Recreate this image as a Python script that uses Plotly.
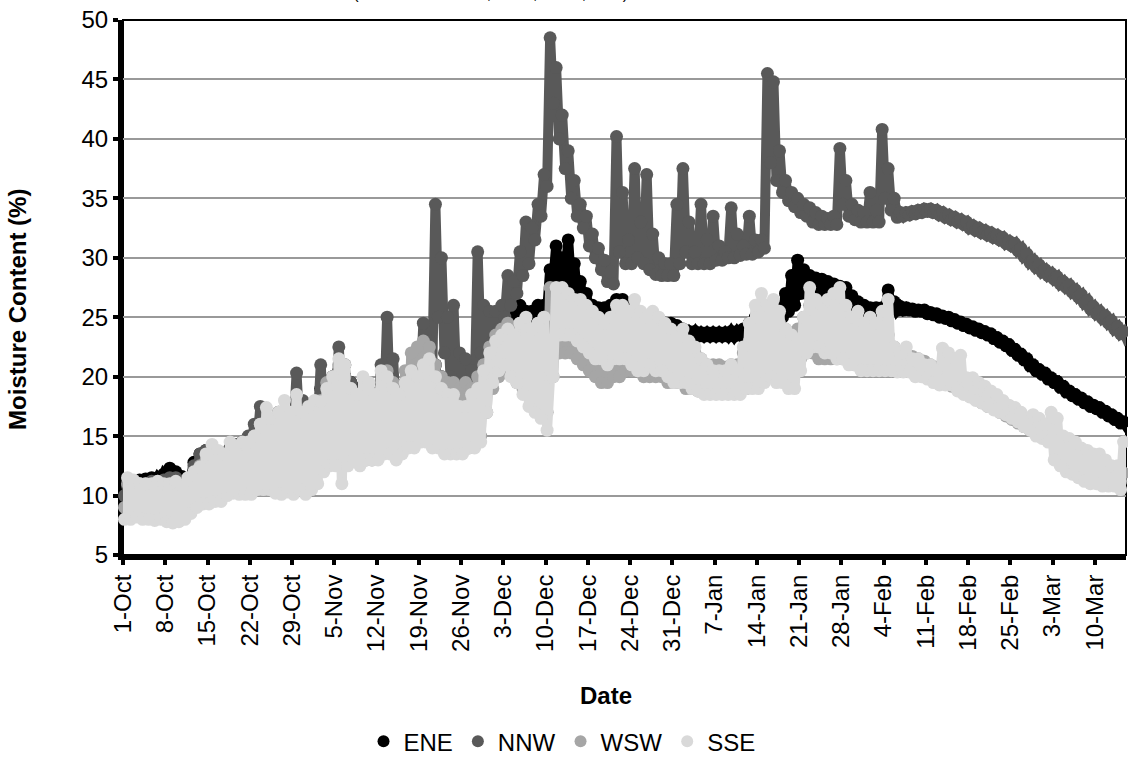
import pandas as pd
import plotly.graph_objects as go

# Daily minimum / maximum moisture readings (%), one value per day from 1 Oct 2011
# (weeks on each row, last row = 10-15 Mar 2012)
ene_min = [
    10.0, 10.2, 10.5, 10.6, 10.8, 11.0, 11.2,
    11.5, 11.3, 11.0, 10.8, 11.5, 12.5, 12.8,
    13.0, 12.5, 12.3, 13.0, 13.5, 13.8, 14.0,
    14.0, 14.3, 14.5, 15.0, 15.2, 15.0, 14.8,
    15.0, 15.5, 15.3, 15.5, 16.5, 17.5, 18.0,
    19.0, 18.5, 18.0, 17.5, 17.5, 17.0, 17.0,
    17.5, 18.0, 18.0, 17.5, 18.0, 18.5, 19.0,
    19.5, 19.5, 19.0, 18.5, 18.0, 18.0, 17.5,
    17.5, 16.5, 17.0, 17.5, 19.0, 20.5, 22.0,
    23.5, 24.0, 24.5, 24.5, 24.0, 24.5, 25.0,
    25.5, 28.0, 27.5, 28.0, 27.5, 26.5, 25.5,
    25.0, 25.0, 24.8, 25.0, 25.0, 25.3, 25.0,
    24.8, 24.5, 24.5, 24.3, 24.0, 24.0, 24.0,
    23.8, 23.5, 23.5, 23.5, 23.4, 23.4, 23.4,
    23.4, 23.4, 23.4, 23.4, 23.5, 23.5, 23.8,
    23.8, 24.0, 24.3, 24.5, 25.0, 25.5, 26.0,
    27.0, 27.0, 27.0, 27.0, 26.8, 26.5, 26.3,
    26.2, 25.8, 25.4, 25.2, 25.0, 25.0, 25.0,
    25.5, 25.8, 25.6, 25.6, 25.6, 25.5, 25.5,
    25.3, 25.2, 25.0, 24.9, 24.7, 24.5, 24.3,
    24.1, 23.9, 23.7, 23.5, 23.2, 22.9, 22.6,
    22.2, 21.8, 21.4, 20.9, 20.5, 20.2, 19.8,
    19.5, 19.1, 18.7, 18.4, 18.1, 17.8, 17.5,
    17.3, 17.0, 16.7, 16.4, 16.1, 15.8,
]
ene_max = [
    11.0, 11.2, 11.3, 11.4, 11.5, 11.5, 11.8,
    12.3, 12.0, 11.6, 11.3, 12.8, 13.5, 13.8,
    14.0, 13.5, 13.2, 14.0, 14.3, 14.5, 14.8,
    15.0, 15.5, 16.0, 16.5, 16.5, 16.0, 15.8,
    16.5, 17.0, 16.5, 17.5, 19.0, 19.5, 20.0,
    20.5, 20.0, 19.5, 19.0, 18.5, 18.5, 18.0,
    19.0, 19.5, 19.0, 19.0, 19.5, 20.0, 20.5,
    21.0, 22.0, 21.0, 20.0, 19.5, 19.0, 18.5,
    18.5, 18.0, 18.0, 19.5, 21.0, 22.5, 24.0,
    25.0, 25.5, 26.0, 25.5, 25.5, 26.0, 26.0,
    29.0, 31.0, 30.0, 31.5, 29.5, 28.0, 27.0,
    26.0, 25.8, 25.8, 26.0, 26.5, 26.5, 26.0,
    25.5, 25.3, 25.0, 25.0, 24.8, 24.5, 24.5,
    24.3, 24.0, 23.8, 23.8, 23.7, 23.7, 23.7,
    23.7, 23.7, 23.8, 23.8, 24.0, 24.5, 25.0,
    24.5, 25.0, 25.5, 26.0, 27.0, 28.5, 29.8,
    29.0, 28.5, 28.3, 28.2, 28.0, 27.8, 27.6,
    27.5, 26.8, 26.3, 26.0, 25.8, 25.8, 25.8,
    27.3, 26.3, 25.9, 25.8, 25.7, 25.6, 25.6,
    25.4, 25.3, 25.1, 25.0, 24.8, 24.6, 24.4,
    24.2, 24.0, 23.8, 23.6, 23.3, 23.0, 22.7,
    22.3, 21.9, 21.5, 21.0, 20.6, 20.3, 19.9,
    19.6, 19.2, 18.8, 18.5, 18.2, 17.9, 17.6,
    17.4, 17.1, 16.8, 16.5, 16.2, 15.9,
]

nnw_min = [
    10.0, 10.0, 10.2, 10.3, 10.3, 10.5, 10.5,
    10.8, 10.8, 10.5, 10.5, 11.0, 12.0, 12.5,
    12.5, 12.3, 12.2, 12.5, 13.0, 13.3, 13.5,
    14.0, 14.5, 14.5, 14.5, 14.8, 15.0, 15.0,
    15.5, 15.5, 15.5, 15.5, 16.0, 16.5, 17.0,
    18.0, 17.5, 17.0, 16.5, 16.5, 16.0, 16.0,
    16.5, 17.0, 17.0, 16.5, 16.5, 17.0, 17.5,
    19.0, 20.0, 21.0, 25.0, 22.0, 20.0, 19.0,
    18.5, 18.0, 18.5, 22.0, 22.5, 23.0, 24.0,
    25.0, 26.0, 27.0, 28.5, 29.5, 31.5, 33.5,
    36.0, 43.0, 40.0, 37.5, 35.0, 33.5, 32.5,
    31.0, 30.0, 29.0, 28.0, 27.8, 30.5, 29.5,
    29.5, 30.0, 29.5, 29.0, 28.6, 28.5, 28.5,
    28.5, 29.5, 30.5, 29.5, 29.5, 29.5, 29.5,
    29.8, 29.8, 30.0, 30.0, 30.2, 30.3, 30.3,
    30.5, 30.8, 38.0, 36.5, 35.5, 34.8, 34.3,
    33.8, 33.5, 33.0, 32.8, 32.8, 32.8, 32.8,
    34.5, 33.5, 33.2, 33.0, 33.0, 33.0, 33.0,
    35.0, 34.0, 33.4, 33.5, 33.6, 33.7, 33.8,
    33.9, 33.8, 33.6, 33.4, 33.2, 33.0, 32.8,
    32.5, 32.3, 32.1, 31.9, 31.7, 31.5, 31.2,
    31.0, 30.6, 30.1, 29.6, 29.2, 28.8, 28.5,
    28.2, 27.8, 27.5, 27.1, 26.7, 26.2, 25.7,
    25.3, 24.9, 24.5, 24.0, 23.6, 23.2,
]
nnw_max = [
    10.8, 11.0, 11.0, 11.0, 11.2, 11.2, 11.3,
    11.5, 11.5, 11.2, 11.3, 12.5, 13.5, 13.8,
    14.0, 13.5, 13.3, 14.0, 14.3, 14.3, 15.0,
    16.0, 17.5, 16.5, 16.0, 17.0, 16.5, 16.5,
    20.3, 18.0, 17.0, 17.5, 21.0, 19.5, 20.0,
    22.5, 21.0, 19.5, 18.5, 18.5, 18.0, 17.5,
    21.0, 25.0, 21.5, 19.0, 19.5, 20.5, 22.0,
    24.5, 23.0, 34.5, 30.0, 25.0, 26.0, 22.0,
    21.5, 20.5, 30.5, 26.0, 25.5, 25.5, 26.0,
    28.5, 28.0, 30.5, 33.0, 32.5, 34.5, 37.0,
    48.5, 46.0, 42.0, 39.0, 36.5, 34.5, 33.5,
    32.0, 30.8, 29.8, 28.8, 40.2, 35.5, 31.5,
    37.5, 33.0, 37.0, 32.0, 30.0, 29.5, 29.5,
    34.5, 37.5, 33.0, 30.5, 34.5, 31.5, 33.5,
    31.0, 30.5, 34.2, 32.0, 31.0, 33.5, 31.5,
    31.5, 45.5, 44.8, 39.0, 36.5, 35.5, 35.0,
    34.5, 34.2, 33.8, 33.5, 33.3, 33.5, 39.2,
    36.5, 34.5, 34.0, 33.8, 35.5, 34.0, 40.8,
    37.5, 35.0, 33.8, 33.8, 33.9, 34.0, 34.1,
    34.1, 34.0, 33.8, 33.6, 33.4, 33.2, 33.0,
    32.7, 32.5, 32.3, 32.1, 31.9, 31.7, 31.4,
    31.2, 30.8, 30.3, 29.8, 29.4, 29.0, 28.7,
    28.4, 28.0, 27.7, 27.3, 26.9, 26.4, 25.9,
    25.5, 25.1, 24.7, 24.2, 23.8, 23.4,
]

wsw_min = [
    9.0, 9.0, 9.0, 9.0, 9.0, 8.8, 8.8,
    8.8, 8.8, 8.5, 8.5, 9.0, 10.0, 10.5,
    10.5, 10.0, 10.0, 10.5, 11.0, 11.0, 11.5,
    11.5, 12.0, 12.0, 12.0, 12.0, 11.5, 11.5,
    12.0, 12.0, 12.0, 12.0, 12.5, 13.5, 14.0,
    15.0, 14.5, 14.0, 13.5, 13.5, 13.0, 13.0,
    13.5, 14.0, 14.0, 14.0, 14.5, 15.0, 15.5,
    16.0, 16.5, 16.0, 15.5, 15.0, 14.5, 14.0,
    14.0, 14.0, 14.5, 15.0, 17.0, 19.0, 20.0,
    20.5, 20.5, 19.5, 19.0, 18.5, 18.0, 17.5,
    17.0, 20.0, 22.0, 22.0, 22.0, 21.5, 21.0,
    20.5, 20.0, 19.5, 19.5, 20.0, 20.0, 20.5,
    20.5, 20.5, 20.0, 20.0, 20.0, 20.0, 19.5,
    19.5, 19.5, 19.0, 19.0, 18.8, 18.8, 18.8,
    18.8, 18.8, 18.8, 18.8, 19.0, 19.0, 19.5,
    20.0, 20.5, 21.0, 21.0, 21.0, 21.0, 21.0,
    21.5, 22.0, 22.0, 21.5, 21.5, 21.5, 21.5,
    21.5, 21.5, 21.0, 21.0, 21.0, 21.0, 21.0,
    21.0, 20.8, 20.7, 20.5, 20.5, 20.4, 20.3,
    20.1, 19.9, 19.7, 19.4, 19.2, 18.9, 18.6,
    18.4, 18.1, 17.8, 17.5, 17.3, 17.0, 16.7,
    16.4, 16.1, 15.8, 15.5, 15.2, 14.9, 14.6,
    14.3, 14.0, 13.7, 13.4, 13.1, 12.8, 12.5,
    12.2, 12.0, 11.7, 11.4, 11.2, 11.0,
]
wsw_max = [
    11.0, 11.0, 11.0, 10.8, 10.8, 10.8, 10.5,
    10.5, 10.5, 10.3, 10.5, 11.5, 12.5, 13.0,
    13.0, 12.5, 12.0, 13.0, 13.5, 13.5, 14.0,
    15.0, 16.0, 15.5, 15.0, 15.5, 15.0, 15.0,
    17.0, 16.0, 15.5, 16.5, 18.0, 19.5, 20.0,
    21.0, 20.0, 19.0, 18.5, 18.0, 18.0, 17.5,
    19.0, 20.5, 19.5, 19.0, 20.5, 22.0, 22.5,
    23.0, 22.5, 21.0, 20.0, 19.5, 19.5, 19.0,
    19.5, 19.0, 20.0, 21.0, 22.5, 23.5, 24.0,
    24.5, 24.0, 24.5, 24.0, 24.0, 24.5, 25.0,
    27.5, 27.0, 26.5, 26.0, 25.5, 25.5, 25.0,
    24.5, 24.0, 24.5, 24.5, 25.0, 25.5, 25.0,
    25.5, 25.0, 25.0, 24.5, 24.0, 24.0, 23.5,
    23.0, 23.0, 22.5, 22.0, 21.5, 21.0, 21.0,
    21.0, 20.8, 21.0, 21.0, 22.0, 23.0, 24.5,
    25.5, 25.0, 25.0, 24.5, 24.0, 23.5, 24.0,
    25.0, 26.0, 25.5, 25.0, 25.0, 24.5, 24.5,
    24.5, 24.0, 23.5, 23.5, 23.5, 23.0, 23.0,
    23.5, 22.5, 22.0, 21.8, 21.7, 21.5, 21.3,
    21.0, 20.8, 20.5, 20.2, 19.9, 19.7, 19.4,
    19.1, 18.8, 18.5, 18.2, 17.9, 17.6, 17.3,
    17.0, 16.8, 16.5, 16.2, 15.9, 15.6, 15.3,
    15.0, 14.7, 14.4, 14.1, 13.8, 13.5, 13.2,
    12.9, 12.6, 12.4, 12.1, 11.9, 11.6,
]

sse_min = [
    8.0, 8.0, 8.2, 8.0, 8.0, 7.9, 8.0,
    7.8, 7.7, 7.8, 8.0, 8.5, 9.0, 9.3,
    9.3, 9.5, 9.5, 10.0, 10.2, 10.1, 10.1,
    10.1, 10.5, 10.5, 10.5, 10.2, 10.1, 10.3,
    10.1, 10.5, 10.1, 10.5, 11.0, 12.0, 12.5,
    12.5, 11.0, 12.5, 13.0, 12.5, 13.0, 13.0,
    13.0, 13.5, 13.5, 13.0, 13.5, 14.0, 14.0,
    14.5, 14.5, 14.0, 14.0, 13.5, 13.5, 13.5,
    13.5, 14.0, 14.0, 14.5, 17.0, 19.5, 20.5,
    21.0, 20.0, 19.5, 18.5, 17.5, 17.0, 16.5,
    15.5, 20.0, 23.5, 23.5, 23.5, 23.0, 22.5,
    22.0, 21.5, 21.5, 21.0, 21.5, 21.5, 21.5,
    21.0, 20.5, 20.5, 21.0, 20.5, 20.5, 20.0,
    19.5, 19.5, 19.5, 19.0, 18.8, 18.5, 18.5,
    18.5, 18.5, 18.5, 18.5, 18.5, 19.0, 19.0,
    19.0, 19.5, 20.0, 19.5, 19.5, 19.0, 19.0,
    20.5, 22.0, 22.5, 22.5, 22.0, 22.0, 21.5,
    21.5, 21.0, 21.0, 20.5, 20.5, 20.5, 20.5,
    20.5, 20.5, 20.4, 20.4, 20.4, 20.0, 20.0,
    19.8, 19.5, 19.3, 19.3, 19.3, 18.8, 18.5,
    18.3, 18.0, 17.8, 17.5, 17.2, 17.0, 16.8,
    16.5, 16.2, 15.8, 15.5, 15.0, 14.8, 14.5,
    13.0, 12.5, 12.0, 11.8, 11.5, 11.2, 11.0,
    11.0, 10.8, 10.8, 10.8, 10.5, 10.5,
]
sse_max = [
    11.5, 11.3, 11.0, 11.0, 11.0, 11.2, 11.0,
    11.0, 11.2, 10.8, 11.5, 12.0, 12.4, 13.5,
    14.3, 13.8, 13.5, 14.5, 14.0, 14.5, 14.5,
    15.0, 16.0, 17.4, 16.5, 17.0, 18.0, 17.0,
    18.5, 17.0, 17.5, 18.0, 17.9, 19.0, 20.0,
    21.5, 21.0, 19.0, 18.5, 20.0, 19.5, 18.5,
    20.5, 20.0, 19.0, 18.5, 19.5, 20.5, 20.0,
    21.0, 21.5, 20.0, 19.0, 18.5, 18.5, 17.5,
    17.5, 18.5, 19.0, 20.5, 22.0, 23.0, 23.5,
    24.0, 23.5, 24.5, 25.0, 24.0, 24.5, 25.0,
    20.0, 27.5, 27.5, 27.0, 26.5, 26.5, 26.0,
    25.5, 25.0, 24.5, 25.0, 26.0, 26.0, 25.5,
    26.5, 25.5, 25.0, 25.5, 25.0, 24.5, 24.0,
    23.5, 24.0, 23.0, 22.5, 21.5, 21.0, 20.5,
    20.5, 20.5, 21.0, 20.5, 22.5, 24.5, 26.0,
    27.0, 26.0, 26.5, 25.5, 24.0, 23.5, 23.0,
    25.0, 27.5, 26.5, 26.0, 26.5, 27.0, 27.5,
    26.0, 25.0, 25.5, 24.5, 25.0, 24.5, 25.5,
    26.5, 22.5, 22.0, 22.5, 21.5, 21.5, 21.0,
    21.0, 20.5, 22.4, 22.0, 21.5, 21.8, 19.9,
    19.9, 19.5, 19.2, 18.8, 18.5, 18.0, 17.6,
    17.4, 17.0, 16.5, 16.8, 16.5, 16.0, 17.0,
    16.5, 15.0, 14.8, 14.5, 14.0, 13.8, 13.5,
    13.5, 13.0, 12.5, 12.5, 14.5, 14.5,
]

series = [
    ("ENE", ene_min, ene_max, "#000000"),
    ("NNW", nnw_min, nnw_max, "#595959"),
    ("WSW", wsw_min, wsw_max, "#a6a6a6"),
    ("SSE", sse_min, sse_max, "#d9d9d9"),
]

start = pd.Timestamp("2011-10-01")
days = pd.date_range(start, periods=len(ene_min), freq="D")
x_end = pd.Timestamp("2012-03-15 03:30")

FONT = "Liberation Sans, Arial, sans-serif"


def readings(lo, hi):
    """Interleave morning (minimum) and evening (maximum) readings."""
    xs, ys = [], []
    for day, a, b in zip(days, lo, hi):
        xs += [day + pd.Timedelta(hours=6), day + pd.Timedelta(hours=18)]
        ys += [a, b]
    return xs, ys


fig = go.Figure()

for name, lo, hi, color in series:
    assert len(lo) == len(hi) == len(days)
    xs, ys = readings(lo, hi)
    fig.add_trace(go.Scatter(
        x=xs, y=ys, mode="lines+markers", name=name, legendgroup=name,
        showlegend=False, cliponaxis=False, hoverinfo="skip",
        line=dict(color=color, width=10),
        marker=dict(color=color, size=13),
    ))

# marker-only legend entries
for name, lo, hi, color in series:
    fig.add_trace(go.Scatter(
        x=[None], y=[None], mode="markers", name=name, legendgroup=name,
        marker=dict(color=color, size=12),
    ))

fig.update_layout(
    width=1128, height=766,
    margin=dict(l=123, r=2, t=20, b=205),
    paper_bgcolor="white", plot_bgcolor="white",
    font=dict(family=FONT, size=24, color="black"),
    showlegend=True,
    legend=dict(
        orientation="h", x=0.4377, xanchor="center", y=-0.349, yanchor="middle",
        font=dict(family=FONT, size=24, color="black"),
        bgcolor="rgba(0,0,0,0)", itemclick=False,
    ),
    xaxis=dict(
        type="date", range=[start, x_end],
        tick0=start, dtick=7 * 86400000, tickformat="%-d-%b", tickangle=-90,
        ticks="outside", ticklen=5, tickwidth=4, tickcolor="black",
        showline=True, linewidth=5, linecolor="black",
        showgrid=False, zeroline=False, layer="below traces",
        tickfont=dict(family=FONT, size=24, color="black"),
    ),
    yaxis=dict(
        range=[5, 50], tick0=5, dtick=5,
        ticks="outside", ticklen=5, tickwidth=4, tickcolor="black",
        showline=True, linewidth=5, linecolor="black",
        showgrid=True, gridcolor="#999999", gridwidth=1.5,
        zeroline=False, layer="below traces",
        tickfont=dict(family=FONT, size=24, color="black"),
    ),
    shapes=[dict(
        type="rect", xref="paper", yref="paper", x0=0, x1=1, y0=0, y1=1,
        line=dict(color="black", width=2), layer="between",
    )],
    annotations=[
        dict(text="Moisture Content (%)", textangle=-90, xref="paper", yref="paper",
             x=-0.1047, y=0.46, xanchor="center", yanchor="middle", showarrow=False,
             font=dict(family=FONT, size=24, color="black", weight="bold")),
        dict(text="Date", xref="paper", yref="paper", x=0.4816, y=-0.2622,
             xanchor="center", yanchor="middle", showarrow=False,
             font=dict(family=FONT, size=24, color="black", weight="bold")),
        dict(text="Moisture Content (Orientations: ENE, NNW, WSW, SSE)",
             xref="paper", yref="paper", x=0.1017, y=1, xanchor="left",
             yanchor="bottom", yshift=16, showarrow=False,
             font=dict(family=FONT, size=16, color="black")),
    ],
)

fig.write_html("out.html")
